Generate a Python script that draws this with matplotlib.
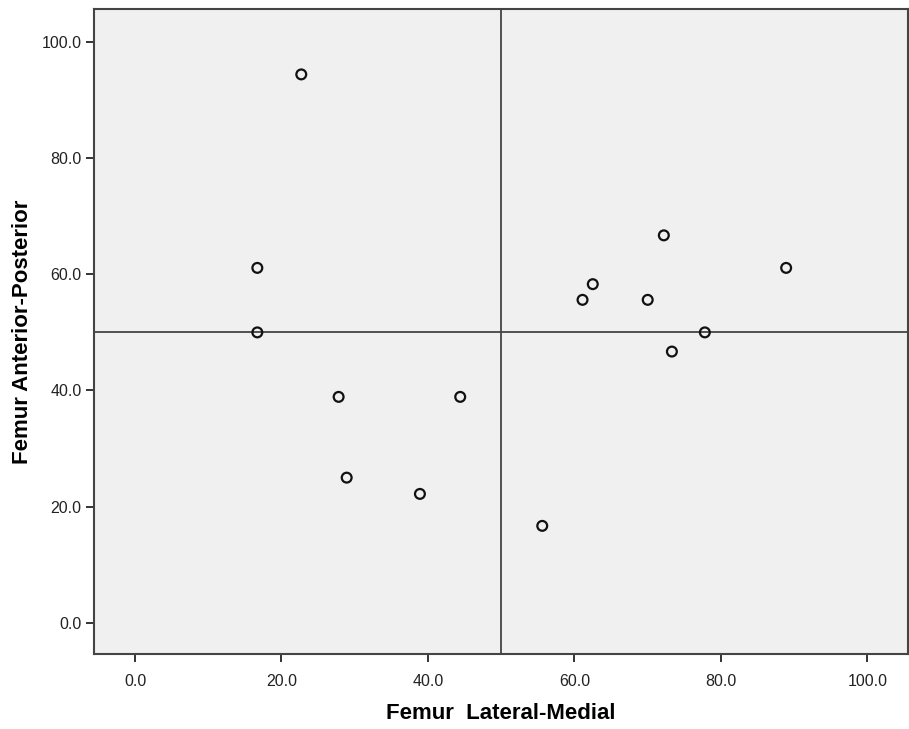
import matplotlib
matplotlib.use("Agg")
import matplotlib.pyplot as plt

# femur lateral-medial vs anterior-posterior values (%)
lateral_medial = [22.7, 16.7, 16.7, 27.8, 28.9, 38.9, 44.4, 55.6,
                  61.1, 62.5, 70.0, 72.2, 73.3, 77.8, 88.9]
anterior_posterior = [94.4, 61.1, 50.0, 38.9, 25.0, 22.2, 38.9, 16.7,
                      55.6, 58.3, 55.6, 66.7, 46.7, 50.0, 61.1]
ref_x = 50.0
ref_y = 50.0
ticks = [0, 20, 40, 60, 80, 100]

plt.rcParams['font.family'] = ['Liberation Sans', 'DejaVu Sans']

fig = plt.figure(figsize=(9.09, 7.29), dpi=100)
ax = fig.add_axes([0.1034, 0.1025, 0.8952, 0.8847])
ax.set_facecolor('#f0f0f0')

ax.scatter(lateral_medial, anterior_posterior, s=50, facecolors='none',
           edgecolors='#111111', linewidths=1.6, zorder=3)
ax.axvline(ref_x, color='#444444', lw=1.3, zorder=2)
ax.axhline(ref_y, color='#444444', lw=1.3, zorder=2)

ax.set_xlim(-5.6, 105.5)
ax.set_ylim(-5.4, 105.6)
ax.set_xticks(ticks)
ax.set_yticks(ticks)
ax.set_xticklabels([f"{t:.1f}" for t in ticks])
ax.set_yticklabels([f"{t:.1f}" for t in ticks])
ax.tick_params(direction='out', length=6, width=1.4, color='#333333',
               labelsize=11.5, labelcolor='#222222')
ax.tick_params(axis='x', pad=8)
ax.tick_params(axis='y', pad=3)
for sp in ax.spines.values():
    sp.set_color('#444444')
    sp.set_linewidth(1.5)

ax.set_xlabel("Femur  Lateral-Medial", fontsize=16, fontweight='bold', labelpad=10)
ax.set_ylabel("Femur Anterior-Posterior", fontsize=16, fontweight='bold', labelpad=6)

fig.savefig("out.png", dpi=100)
